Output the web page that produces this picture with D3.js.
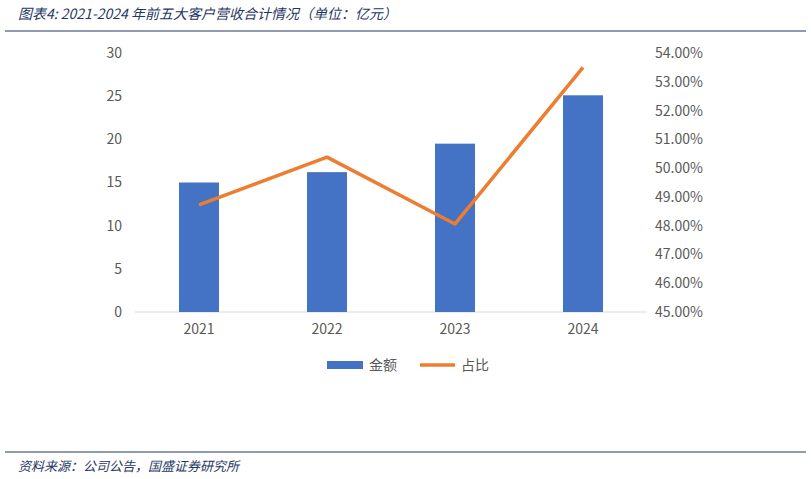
<!DOCTYPE html>
<html lang="zh">
<head>
<meta charset="utf-8">
<script src="https://d3js.org/d3.v7.min.js"></script>
<style>
  body { margin: 0; background: #fff; }
  text { font-family: "Noto Sans CJK SC", "Noto Sans", sans-serif; }
</style>
</head>
<body>
<script>
var years = ["2021", "2022", "2023", "2024"];
var amount = [15.0, 16.2, 19.5, 25.1];
var share = [48.72, 50.38, 48.06, 53.5];
var leftTicks = [0, 5, 10, 15, 20, 25, 30];
var rightTicks = [45, 46, 47, 48, 49, 50, 51, 52, 53, 54];

var w = 811, h = 479;
var svg = d3.select("body").append("svg").attr("width", w).attr("height", h);

// title and frame lines
svg.append("text").attr("x", 18).attr("y", 19)
  .attr("font-size", 14).attr("font-style", "italic").attr("fill", "#1f3864")
  .text("图表4:  2021-2024 年前五大客户营收合计情况（单位：亿元）");
svg.append("line").attr("x1", 5).attr("x2", 806).attr("y1", 31).attr("y2", 31)
  .attr("stroke", "#1f3864").attr("stroke-width", 1);
svg.append("line").attr("x1", 5).attr("x2", 806).attr("y1", 452).attr("y2", 452)
  .attr("stroke", "#1f3864").attr("stroke-width", 1);
svg.append("text").attr("x", 18).attr("y", 471)
  .attr("font-size", 13).attr("font-style", "italic").attr("fill", "#1f3864")
  .text("资料来源：公司公告，国盛证券研究所");

var x = d3.scaleBand().domain(years).range([135, 647]);
var yL = d3.scaleLinear().domain([0, 30]).range([312, 53]);
var yR = d3.scaleLinear().domain([45, 54]).range([312, 53]);

// axes
var gl = svg.append("g").attr("transform", "translate(130,0)")
  .call(d3.axisLeft(yL).tickValues(leftTicks).tickSize(0).tickPadding(8));
var gr = svg.append("g").attr("transform", "translate(650,0)")
  .call(d3.axisRight(yR).tickValues(rightTicks).tickSize(0).tickPadding(5)
    .tickFormat(d => d.toFixed(2) + "%"));
var gx = svg.append("g").attr("transform", "translate(0,312)")
  .call(d3.axisBottom(x).tickSize(0).tickPadding(12));
[gl, gr, gx].forEach(g => {
  g.select(".domain").remove();
  g.selectAll("text").attr("font-size", 14).attr("fill", "#595959");
});
svg.append("line").attr("x1", 135).attr("x2", 647).attr("y1", 312).attr("y2", 312)
  .attr("stroke", "#d9d9d9");

// bars
svg.selectAll("rect.bar").data(years).enter().append("rect")
  .attr("class", "bar")
  .attr("x", d => x(d) + x.bandwidth() / 2 - 20)
  .attr("width", 40)
  .attr("y", (d, i) => yL(amount[i]))
  .attr("height", (d, i) => 312 - yL(amount[i]))
  .attr("fill", "#4472c4");

// line
var line = d3.line().x((d, i) => x(years[i]) + x.bandwidth() / 2).y(d => yR(d));
svg.append("path").datum(share).attr("d", line)
  .attr("fill", "none").attr("stroke", "#ed7d31").attr("stroke-width", 3.5)
  .attr("stroke-linejoin", "round");

// legend
svg.append("rect").attr("x", 327).attr("y", 361).attr("width", 36).attr("height", 8).attr("fill", "#4472c4");
svg.append("text").attr("x", 369).attr("y", 370).attr("font-size", 14).attr("fill", "#595959").text("金额");
svg.append("line").attr("x1", 420).attr("x2", 455).attr("y1", 365).attr("y2", 365)
  .attr("stroke", "#ed7d31").attr("stroke-width", 3.5);
svg.append("text").attr("x", 461).attr("y", 370).attr("font-size", 14).attr("fill", "#595959").text("占比");
</script>
</body>
</html>
